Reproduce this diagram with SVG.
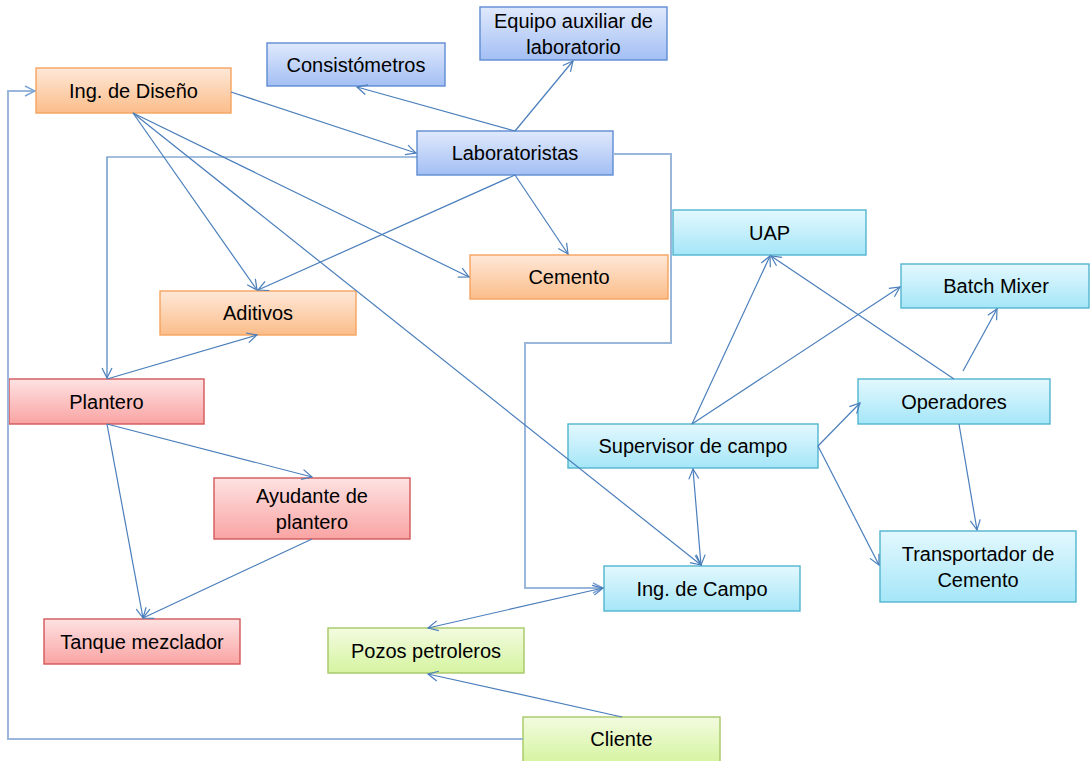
<svg xmlns="http://www.w3.org/2000/svg" width="1091" height="761" viewBox="0 0 1091 761">
  <defs>
    <linearGradient id="gOrange" x1="0" y1="0" x2="0" y2="1">
      <stop offset="0" stop-color="#FEE8D8"/>
      <stop offset="1" stop-color="#FBBD8A"/>
    </linearGradient>
    <linearGradient id="gBlue" x1="0" y1="0" x2="0" y2="1">
      <stop offset="0" stop-color="#E0E9FC"/>
      <stop offset="1" stop-color="#A3BFF4"/>
    </linearGradient>
    <linearGradient id="gCyan" x1="0" y1="0" x2="0" y2="1">
      <stop offset="0" stop-color="#E3F8FE"/>
      <stop offset="1" stop-color="#A5E6F8"/>
    </linearGradient>
    <linearGradient id="gRed" x1="0" y1="0" x2="0" y2="1">
      <stop offset="0" stop-color="#FEE2E2"/>
      <stop offset="1" stop-color="#F9A4A3"/>
    </linearGradient>
    <linearGradient id="gGreen" x1="0" y1="0" x2="0" y2="1">
      <stop offset="0" stop-color="#F3FBE0"/>
      <stop offset="1" stop-color="#D5F4A0"/>
    </linearGradient>
    <marker id="arrow" viewBox="0 0 12 12" refX="11" refY="6" markerWidth="12" markerHeight="12" markerUnits="userSpaceOnUse" orient="auto-start-reverse">
      <path d="M1,1 L11,6 L1,11" fill="none" stroke="#4A7EBB" stroke-width="1.2"/>
    </marker>
    <marker id="arrowLight" viewBox="0 0 12 12" refX="11" refY="6" markerWidth="12" markerHeight="12" markerUnits="userSpaceOnUse" orient="auto">
      <path d="M1,1 L11,6 L1,11" fill="none" stroke="#7FA4D4" stroke-width="1.4"/>
    </marker>
  </defs>
  <style>
    .box { stroke-width: 1.4; }
    .orange { fill: url(#gOrange); stroke: #F6A35E; }
    .blue { fill: url(#gBlue); stroke: #5E8CD2; }
    .cyan { fill: url(#gCyan); stroke: #52B5CF; }
    .red { fill: url(#gRed); stroke: #D2585A; }
    .green { fill: url(#gGreen); stroke: #A6C865; }
    text { font-family: "Liberation Sans", Arial, sans-serif; font-size: 20px; fill: #000; text-anchor: middle; }
    .conn { fill: none; stroke: #4A7EBB; stroke-width: 1.2; marker-end: url(#arrow); }
    .both { marker-start: url(#arrow); }
    .elbow { fill: none; stroke: #9AB6DB; stroke-width: 2; marker-end: url(#arrowLight); }
  </style>

  <rect width="1091" height="761" fill="#FFFFFF"/>

  <!-- nodes -->
  <g id="ing-diseno">
    <rect class="box orange" x="36" y="68" width="195" height="45"/>
    <text x="133.5" y="97.5">Ing. de Diseño</text>
  </g>
  <g id="consistometros">
    <rect class="box blue" x="267" y="43" width="178" height="43"/>
    <text x="356" y="71.5">Consistómetros</text>
  </g>
  <g id="equipo-auxiliar">
    <rect class="box blue" x="480" y="7" width="187" height="53"/>
    <text x="573.5" y="27.5">Equipo auxiliar de</text>
    <text x="573.5" y="53.5">laboratorio</text>
  </g>
  <g id="laboratoristas">
    <rect class="box blue" x="417" y="131" width="196" height="44"/>
    <text x="515" y="160">Laboratoristas</text>
  </g>
  <g id="uap">
    <rect class="box cyan" x="673" y="210" width="193" height="45"/>
    <text x="769.5" y="239.5">UAP</text>
  </g>
  <g id="batch-mixer">
    <rect class="box cyan" x="901" y="264" width="188" height="44"/>
    <text x="996" y="293">Batch Mixer</text>
  </g>
  <g id="cemento">
    <rect class="box orange" x="470" y="255" width="198" height="44"/>
    <text x="569" y="284">Cemento</text>
  </g>
  <g id="aditivos">
    <rect class="box orange" x="160" y="291" width="196" height="44"/>
    <text x="258" y="320">Aditivos</text>
  </g>
  <g id="operadores">
    <rect class="box cyan" x="858" y="379" width="192" height="45"/>
    <text x="954" y="408.5">Operadores</text>
  </g>
  <g id="plantero">
    <rect class="box red" x="9" y="379" width="195" height="45"/>
    <text x="106.5" y="408.5">Plantero</text>
  </g>
  <g id="supervisor">
    <rect class="box cyan" x="568" y="424" width="250" height="44"/>
    <text x="693" y="453">Supervisor de campo</text>
  </g>
  <g id="ayudante">
    <rect class="box red" x="214" y="478" width="196" height="61"/>
    <text x="312" y="502.5">Ayudante de</text>
    <text x="312" y="528.5">plantero</text>
  </g>
  <g id="transportador">
    <rect class="box cyan" x="880" y="531" width="196" height="71"/>
    <text x="978" y="560.5">Transportador de</text>
    <text x="978" y="586.5">Cemento</text>
  </g>
  <g id="ing-campo">
    <rect class="box cyan" x="604" y="566" width="196" height="45"/>
    <text x="702" y="595.5">Ing. de Campo</text>
  </g>
  <g id="tanque">
    <rect class="box red" x="44" y="619" width="196" height="45"/>
    <text x="142" y="648.5">Tanque mezclador</text>
  </g>
  <g id="pozos">
    <rect class="box green" x="328" y="628" width="196" height="45"/>
    <text x="426" y="657.5">Pozos petroleros</text>
  </g>
  <g id="cliente">
    <rect class="box green" x="523" y="717" width="197" height="46"/>
    <text x="621.5" y="746">Cliente</text>
  </g>

  <!-- connectors -->
  <g id="connectors">
    <!-- elbow routes -->
    <polyline class="elbow" points="523,739 8,739 8,91 35,91"/>
    <polyline class="elbow" points="613,154 671,154 671,343 525,343 525,588 603,588"/>
    <polyline class="conn" points="417,157 107,157 107,378"/>

    <!-- from Ing. de Diseño -->
    <line class="conn" x1="231" y1="92" x2="416" y2="153"/>
    <line class="conn" x1="133" y1="113" x2="257" y2="290"/>
    <line class="conn" x1="133" y1="113" x2="469" y2="277"/>
    <line class="conn" x1="133" y1="113" x2="701" y2="565"/>

    <!-- from Laboratoristas -->
    <line class="conn" x1="515" y1="131" x2="357" y2="87"/>
    <line class="conn" x1="515" y1="131" x2="573" y2="61"/>
    <line class="conn" x1="515" y1="175" x2="568" y2="254"/>
    <line class="conn" x1="515" y1="175" x2="258" y2="290"/>

    <!-- plant side -->
    <line class="conn" x1="107" y1="379" x2="257" y2="335"/>
    <line class="conn" x1="107" y1="424" x2="312" y2="477"/>
    <line class="conn" x1="107" y1="424" x2="143" y2="618"/>
    <line class="conn" x1="312" y1="539" x2="143" y2="618"/>

    <!-- field side -->
    <line class="conn both" x1="693" y1="469" x2="701" y2="565"/>
    <line class="conn" x1="692" y1="424" x2="770" y2="256"/>
    <line class="conn" x1="692" y1="424" x2="900" y2="287"/>
    <line class="conn" x1="954" y1="379" x2="771" y2="256"/>
    <line class="conn" x1="963" y1="371" x2="997" y2="309"/>
    <line class="conn" x1="818" y1="446" x2="860" y2="403"/>
    <line class="conn" x1="818" y1="446" x2="879" y2="565"/>
    <line class="conn" x1="959" y1="424" x2="977" y2="530"/>

    <!-- wells and client -->
    <line class="conn both" x1="428" y1="628" x2="603" y2="588"/>
    <line class="conn" x1="622" y1="717" x2="428" y2="674"/>
  </g>
</svg>
